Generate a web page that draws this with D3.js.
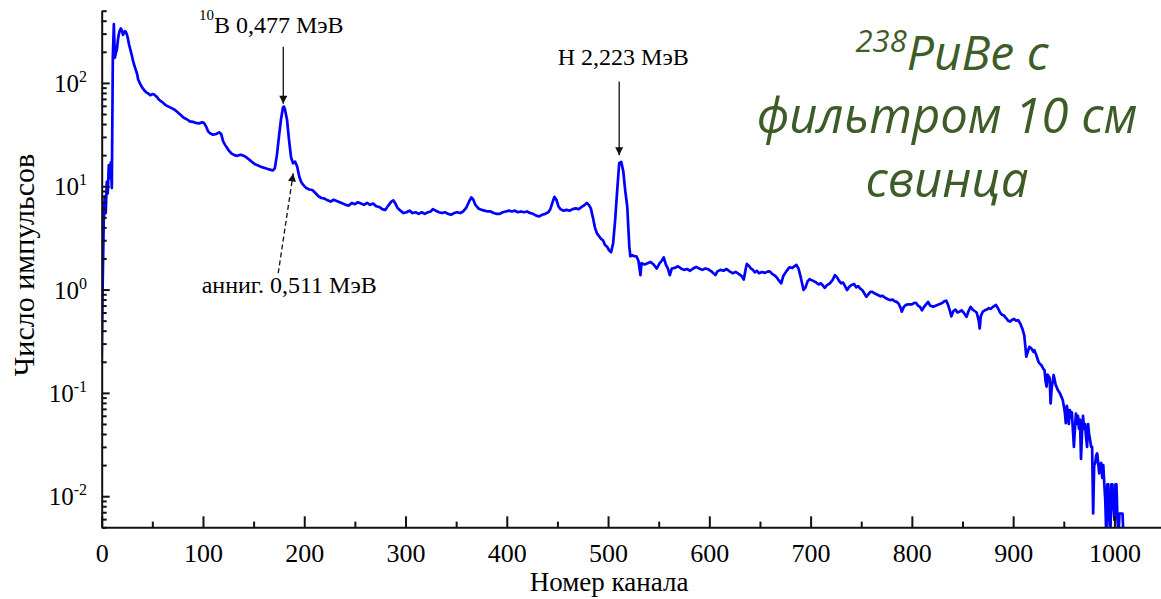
<!DOCTYPE html>
<html>
<head>
<meta charset="utf-8">
<script src="https://cdn.jsdelivr.net/npm/d3@7"></script>
<style>
  html, body { margin: 0; padding: 0; background: #ffffff; }
  svg { display: block; }
</style>
</head>
<body>
<svg id="chart" width="1161" height="599"></svg>
<script>
// Gamma spectrum of a 238PuBe source behind 10 cm of lead (counts per channel)
const channels = [
  0,1,2,3,4,5,6,7,8,9,10,11,12,13,14,15,16,17,18,19,20,21,22,23,24,25,26,27,28,30,31,33,35,36,38,40,42,44,46,48,
  50,52,54,56,58,60,63,66,69,72,75,78,81,84,87,90,93,96,99,101,103,105,107,110,113,116,118,120,122,125,128,131,134,137,
  140,143,146,149,152,155,158,161,164,167,169,171,173,175,177,179,180,181,183,185,187,189,191,193,195,197,199,202,205,208,
  211,214,217,220,223,226,229,232,235,238,241,244,247,250,253,256,259,262,265,268,271,274,277,280,283,286,288,290,292,295,
  298,301,304,307,310,313,316,319,322,325,327,330,333,336,339,342,345,348,351,354,357,360,363,365,367,369,372,375,378,381,
  384,387,390,393,396,399,402,405,408,411,414,417,420,423,426,429,432,435,438,441,443,445,447,449,451,453,456,459,462,465,
  468,471,474,477,479,481,483,485,487,489,491,493,495,497,499,501,503,505,507,509,511,513,515,517,519,520,521,522,524,526,
  528,530,532,533,536,539,542,545,548,551,553,555,557,559,561,563,566,569,572,575,578,581,584,587,590,593,596,599,602,604,
  606,608,611,614,617,620,623,626,629,632,634,636,637,639,641,643,645,647,649,652,655,658,660,662,664,666,668,671,673,676,
  679,682,684,686,688,690,692,693,695,697,699,702,705,708,710,712,714,716,719,722,724,726,728,730,732,734,736,738,740,743,
  745,747,749,751,753,755,757,759,761,763,765,767,769,771,773,775,777,779,781,783,785,787,789,790,792,794,797,800,802,804,
  806,808,810,812,814,816,818,821,824,827,830,832,834,836,838,839,841,843,845,847,849,851,854,856,858,860,862,864,866,867,
  868,870,872,874,876,878,880,882,883,885,887,889,891,893,895,897,899,901,903,905,907,909,911,913,915,916,918,920,921,923,
  925,926,928,930,931,932,933,934,936,937,938,940,942,944,946,948,949,950,951,952,953,954,955,956,957,958,959,960,961,962,
  963,964,965,966,967,968,969,970,971,972,973,974,975,976,977,978,979,980,981,982,983,984,985,986,987,988,989,990,991,992,
  993,994,995,996,997,998,999,1000,1001,1002,1003,1004,1005,1006,1007,1008,1009
];
const counts = [
  0.2,1.2,4.5,8,5.5,11,8.5,16,12,17,9.6,180,370,175,195,210,260,300,325,336,320,291,305,317,310,291,265,235,216,180,162,140,122,108,98,90,85,81,79,76,
  78,77,74,70,67,65,61,59,57,55,52,49,46,44.5,42.5,42,41,40.5,41.5,41,38,34,32.5,31.5,32,33.2,32,27,25,22.5,20.8,20,19.7,20.2,
  19.8,19,18,17,16.2,15.8,15.3,15,14.7,14.4,14.2,15,20,30,44,58,59,55,44,28,19,16.7,17.3,15.5,12.5,11,10.3,9.6,9.3,9.2,
  8.6,8.0,7.7,7.6,7.3,7.1,7.4,7.2,7.0,6.8,6.6,6.5,6.9,6.7,7.0,6.8,6.6,6.9,6.6,6.8,6.4,6.3,6.0,5.9,6.5,7.1,7.3,6.8,6.2,5.8,
  5.5,5.6,5.8,5.5,5.6,5.4,5.6,5.4,5.6,5.7,6.0,5.8,5.6,5.5,5.6,5.4,5.3,5.5,5.6,5.5,5.7,6.2,7.2,7.8,7.4,6.6,6.1,5.9,5.8,5.7,
  5.7,5.5,5.4,5.4,5.6,5.7,5.8,5.7,5.8,5.6,5.7,5.6,5.7,5.5,5.4,5.2,5.1,5.3,5.4,5.6,6.0,6.9,7.9,7.4,6.4,6.0,5.8,5.9,5.8,6.0,
  6.1,6.0,6.3,6.6,6.9,6.6,6.1,5.0,4.0,3.5,3.3,3.1,3.0,2.7,2.6,2.4,2.3,2.8,4.7,9,16.7,17.2,14,9,6.3,4,2.6,2.1,2.15,2.1,
  2.1,1.9,1.38,1.8,1.75,1.8,1.85,1.75,1.6,1.8,1.9,2.05,1.75,1.6,1.38,1.6,1.62,1.68,1.6,1.55,1.58,1.52,1.6,1.66,1.6,1.55,1.6,1.57,1.5,1.44,
  1.38,1.5,1.55,1.52,1.58,1.5,1.44,1.48,1.42,1.35,1.25,1.6,1.77,1.7,1.6,1.55,1.47,1.52,1.44,1.48,1.45,1.5,1.49,1.42,1.38,1.33,1.25,1.15,1.35,1.5,
  1.64,1.62,1.68,1.73,1.6,1.35,1.1,0.99,1.05,1.2,1.26,1.22,1.18,1.12,1.15,1.1,1.04,1.1,1.15,1.25,1.38,1.32,1.22,1.15,1.17,1.08,0.99,1.06,1.1,1.13,
  1.05,1.08,1.02,0.99,0.92,0.85,0.9,0.95,0.95,0.92,0.9,0.88,0.86,0.87,0.84,0.82,0.8,0.79,0.8,0.77,0.76,0.73,0.66,0.61,0.68,0.71,0.72,0.72,0.74,0.745,
  0.7,0.68,0.63,0.68,0.72,0.76,0.7,0.68,0.7,0.72,0.74,0.77,0.78,0.7,0.6,0.55,0.62,0.64,0.6,0.61,0.63,0.6,0.545,0.62,0.68,0.64,0.62,0.6,0.5,0.42,
  0.55,0.61,0.63,0.64,0.66,0.65,0.68,0.7,0.71,0.66,0.6,0.57,0.56,0.53,0.5,0.49,0.51,0.52,0.5,0.505,0.47,0.42,0.36,0.224,0.26,0.279,0.27,0.25,0.259,0.23,
  0.2,0.193,0.185,0.17,0.166,0.13,0.115,0.15,0.14,0.079,0.11,0.149,0.12,0.107,0.1,0.09,0.085,0.075,0.065,0.051,0.075,0.066,0.05,0.068,0.058,0.065,0.044,0.03,0.045,0.063,
  0.05,0.06,0.045,0.055,0.023,0.04,0.06,0.045,0.05,0.0375,0.03,0.05,0.04,0.035,0.03,0.03,0.0068,0.02,0.0207,0.025,0.026,0.021,0.0166,0.02,0.021,0.015,0.02,0.0132,0.009,0.004,
  0.013,0.013,0.006,0.004,0.013,0.013,0.008,0.0059,0.013,0.013,0.006,0.004,0.0068,0.0068,0.0068,0.0068,0.004
];

const xMajorTicks = [0, 100, 200, 300, 400, 500, 600, 700, 800, 900, 1000];
const xMinorTicks = [50, 150, 250, 350, 450, 550, 650, 750, 850, 950];
const yDecades = [0.01, 0.1, 1, 10, 100];
const yExponents = ["-2", "-1", "0", "1", "2"];
const xTitle = "Номер канала";
const yTitle = "Число импульсов";

// Peak annotations: arrow from (ch, value) tail to tip, label offset from tail in px
const annotations = [
  { sup: "10", text: "B 0,477 МэВ", from: [179.3, 224], to: [179.3, 63], dx: -12, dy: -14, dashed: false },
  { sup: "", text: "H 2,223 МэВ", from: [511, 103], to: [511, 20], dx: 4, dy: -17, dashed: false },
  { sup: "", text: "анниг. 0,511 МэВ", from: [174.3, 1.44], to: [189.1, 13.3], dx: 11, dy: 20, dashed: true }
];

const titleSup = "238";
const titleLines = ["PuBe с", "фильтром 10 см", "свинца"];

const svg = d3.select("#chart");
const W = 1161, H = 599;
const plotLeft = 101.7, plotRight = 1161, plotTop = 10.7, plotBottom = 527.3;

const x = d3.scaleLinear().domain([0, 1046]).range([plotLeft, plotRight]);
const y = d3.scaleLog().domain([0.005, 500]).range([plotBottom, plotTop]);

svg.append("rect").attr("width", W).attr("height", H).attr("fill", "#ffffff");

const defs = svg.append("defs");
defs.append("clipPath").attr("id", "plotClip")
  .append("rect").attr("x", plotLeft).attr("y", 0).attr("width", plotRight - plotLeft).attr("height", plotBottom);

// Spectrum line
const pts = channels.map((c, i) => [c, counts[i]]);
const line = d3.line().x(d => x(d[0])).y(d => y(d[1]));
svg.append("path")
  .attr("clip-path", "url(#plotClip)")
  .attr("d", line(pts))
  .attr("fill", "none")
  .attr("stroke", "#0000ff")
  .attr("stroke-width", 2.7)
  .attr("stroke-linejoin", "round");

const axisColor = "#111111";
const serif = "'Liberation Serif', 'Times New Roman', serif";

// X axis: ticks point inward
const xAxisG = svg.append("g").attr("transform", `translate(0,${plotBottom})`);
xAxisG.call(d3.axisBottom(x).tickValues(xMinorTicks).tickSize(-5.7).tickSizeOuter(0).tickFormat(""));
const xMajor = svg.append("g").attr("transform", `translate(0,${plotBottom})`)
  .call(d3.axisBottom(x).tickValues(xMajorTicks).tickSize(-11).tickSizeOuter(0).tickFormat(d3.format("d")));
xMajor.select(".domain").remove();
xAxisG.select(".domain").attr("stroke", axisColor).attr("stroke-width", 2);
xMajor.selectAll("text")
  .attr("y", 35).attr("dy", 0)
  .attr("fill", "#000")
  .style("font-family", serif).style("font-size", "26px");

// Y axis (log): ticks point inward
const minorY = [];
[0.001, 0.01, 0.1, 1, 10, 100].forEach(d => {
  for (let k = 2; k <= 9; k++) {
    const v = d * k;
    if (v >= 0.005 && v <= 500) minorY.push(v);
  }
});
const yAxisG = svg.append("g").attr("transform", `translate(${plotLeft},0)`)
  .call(d3.axisLeft(y).tickValues(minorY).tickSize(-5).tickSizeOuter(0).tickFormat(""));
const yMajor = svg.append("g").attr("transform", `translate(${plotLeft},0)`)
  .call(d3.axisLeft(y).tickValues(yDecades).tickSize(-8).tickSizeOuter(0).tickFormat(""));
yMajor.select(".domain").remove();
yAxisG.select(".domain").attr("stroke", axisColor).attr("stroke-width", 2);
svg.selectAll(".tick line").attr("stroke", axisColor).attr("stroke-width", 2);

// Decade labels 10^n
yDecades.forEach((v, i) => {
  const t = svg.append("text")
    .attr("x", 87).attr("y", y(v) + 9)
    .attr("text-anchor", "end")
    .attr("fill", "#000")
    .style("font-family", serif).style("font-size", "25px");
  t.append("tspan").text("10");
  t.append("tspan").attr("dy", -10).style("font-size", "16px").text(yExponents[i]);
});

// Axis titles
svg.append("text")
  .attr("x", (plotLeft + x(1000)) / 2 + 1).attr("y", 591)
  .attr("text-anchor", "middle").attr("fill", "#000")
  .style("font-family", serif).style("font-size", "27px")
  .text(xTitle);
svg.append("text")
  .attr("transform", `translate(34,265) rotate(-90)`)
  .attr("text-anchor", "middle").attr("fill", "#000")
  .style("font-family", serif).style("font-size", "30px")
  .text(yTitle);

// Peak annotations
defs.append("marker").attr("id", "arrowHead")
  .attr("viewBox", "0 0 10 10").attr("refX", 10).attr("refY", 5)
  .attr("markerUnits", "userSpaceOnUse").attr("markerWidth", 13).attr("markerHeight", 8)
  .attr("orient", "auto")
  .append("path").attr("d", "M0,0 L10,5 L0,10 Z").attr("fill", "#111");

annotations.forEach(a => {
  const x1 = x(a.from[0]), y1 = y(a.from[1]);
  const x2 = x(a.to[0]), y2 = y(a.to[1]);
  svg.append("line")
    .attr("x1", x1).attr("y1", y1).attr("x2", x2).attr("y2", y2)
    .attr("stroke", "#111").attr("stroke-width", 1.3)
    .attr("stroke-dasharray", a.dashed ? "5,3" : null)
    .attr("marker-end", "url(#arrowHead)");
  const t = svg.append("text")
    .attr("x", x1 + a.dx).attr("y", y1 + a.dy)
    .attr("text-anchor", "middle").attr("fill", "#000")
    .style("font-family", serif).style("font-size", "24px");
  if (a.sup) {
    t.append("tspan").attr("dy", -13).style("font-size", "15px").text(a.sup);
    t.append("tspan").attr("dy", 13).text(a.text);
  } else {
    t.text(a.text);
  }
});

// Source caption
const green = "#3e5c28";
const cx = 947;
const cap = svg.append("g")
  .style("font-family", "'Open Sans', 'Noto Sans', sans-serif")
  .style("font-style", "italic")
  .attr("fill", green);
const l1 = cap.append("text").attr("x", cx + 5).attr("y", 70).attr("text-anchor", "middle").style("font-size", "48px");
l1.append("tspan").attr("dy", -18).style("font-size", "31px").text(titleSup);
l1.append("tspan").attr("dy", 18).text(titleLines[0]);
cap.append("text").attr("x", cx).attr("y", 133).attr("text-anchor", "middle").style("font-size", "49px").text(titleLines[1]);
cap.append("text").attr("x", cx).attr("y", 197).attr("text-anchor", "middle").style("font-size", "49px").text(titleLines[2]);
</script>
</body>
</html>
